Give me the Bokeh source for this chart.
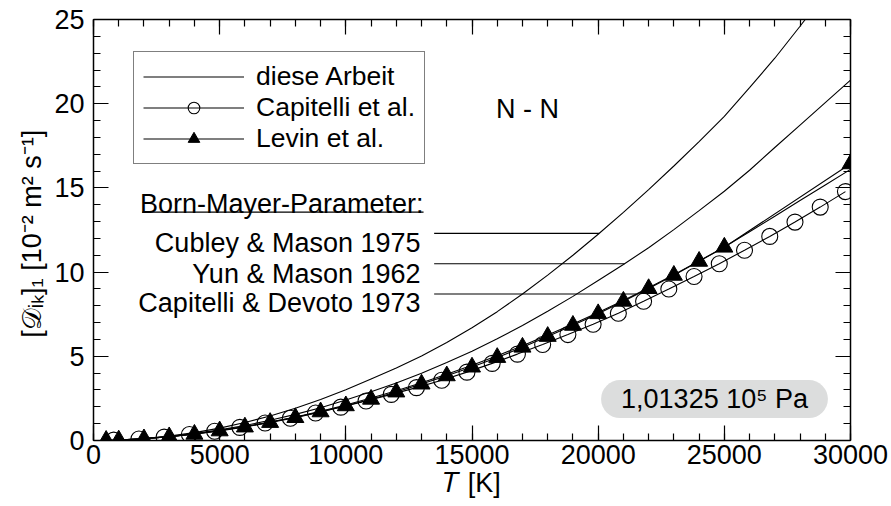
import numpy as np
from bokeh.plotting import figure
from bokeh.models import (Range1d, LinearAxis, SingleIntervalTicker, Legend,
                          LegendItem, Label)
from bokeh.embed import file_html
from bokeh.resources import INLINE

FONT = "Liberation Sans"
FS = "27px"

# Temperature grid of the computed curves (diese Arbeit) [K]
T_CURVE = [500] + list(range(1000, 30001, 1000))

# Diffusion coefficient [10^-2 m^2 s^-1] with three Born-Mayer parameter sets
D_CUBLEY_1975 = [0.007, 0.028, 0.115, 0.262, 0.469, 0.737, 1.07, 1.46, 1.92, 2.43,
                 3.01, 3.65, 4.30, 5.02, 5.82, 6.70, 7.65, 8.70, 9.82, 11.00,
                 12.25, 13.55, 14.90, 16.30, 17.75, 19.25, 20.95, 22.70, 24.60,
                 26.55, 28.50]
D_YUN_1962 = [0.006, 0.03, 0.10, 0.23, 0.41, 0.63, 0.89, 1.20, 1.55, 1.95,
              2.40, 2.89, 3.42, 4.00, 4.63, 5.30, 6.04, 6.83, 7.67, 8.56,
              9.50, 10.45, 11.45, 12.52, 13.65, 14.80, 16.05, 17.40, 18.73,
              20.06, 21.40]
D_DEVOTO_1973 = [0.008, 0.03, 0.11, 0.23, 0.39, 0.59, 0.82, 1.09, 1.40, 1.74,
                 2.11, 2.52, 2.96, 3.43, 3.93, 4.47, 5.03, 5.63, 6.26, 6.92,
                 7.60, 8.32, 9.07, 9.85, 10.66, 11.49, 12.40, 13.32, 14.25,
                 15.17, 16.10]

# Capitelli et al.
T_CAPITELLI = list(range(800, 30000, 1000))
D_CAPITELLI = [0.02, 0.09, 0.20, 0.36, 0.55, 0.78, 1.04, 1.32, 1.63, 1.98,
               2.35, 2.74, 3.14, 3.58, 4.06, 4.58, 5.13, 5.70, 6.29, 6.90,
               7.56, 8.27, 9.00, 9.74, 10.50, 11.30, 12.12, 12.97, 13.86, 14.78]

# Levin et al.
T_LEVIN = [500] + list(range(1000, 25001, 1000)) + [30000]
D_LEVIN = [0.01, 0.03, 0.10, 0.22, 0.37, 0.57, 0.80, 1.07, 1.36, 1.70,
           2.06, 2.45, 2.88, 3.35, 3.84, 4.36, 4.93, 5.54, 6.18, 6.84,
           7.53, 8.27, 9.02, 9.81, 10.64, 11.48, 16.43]

# Reference labels for the Born-Mayer parameter sets
BM_LABELS = ["Cubley & Mason 1975", "Yun & Mason 1962", "Capitelli & Devoto 1973"]
BM_CURVES = [D_CUBLEY_1975, D_YUN_1962, D_DEVOTO_1973]
BM_LEVELS = [12.3, 10.5, 8.7]          # height of the pointer lines
BM_TEXT_BASE = [11.72, 9.90, 8.14]     # baselines of the label texts
POINTER_START = 13500

p = figure(width=891, height=506, output_backend="svg", toolbar_location=None,
           x_range=Range1d(0, 30000), y_range=Range1d(0, 25),
           min_border_left=93, min_border_right=41, min_border_top=19,
           min_border_bottom=66, background_fill_color="white",
           border_fill_color="white")
p.grid.visible = False
p.outline_line_color = None

xticker = SingleIntervalTicker(interval=5000, num_minor_ticks=5)
yticker = SingleIntervalTicker(interval=5, num_minor_ticks=5)


def style_axis(ax, labels=True):
    ax.axis_line_color = "black"
    ax.axis_line_width = 1.5
    ax.major_tick_line_color = "black"
    ax.minor_tick_line_color = "black"
    ax.major_tick_line_width = 1.2
    ax.minor_tick_line_width = 1.2
    ax.major_tick_in = 15
    ax.major_tick_out = 0
    ax.minor_tick_in = 7
    ax.minor_tick_out = 0
    ax.major_label_text_font = FONT
    ax.major_label_text_color = "black"
    ax.axis_label_text_color = "black"
    ax.axis_label_text_font = FONT
    ax.axis_label_text_font_size = FS
    ax.axis_label_text_font_style = "normal"
    if labels:
        ax.major_label_text_font_size = FS
    else:
        ax.major_label_text_font_size = "0px"
        ax.major_label_text_color = None
        ax.major_label_standoff = 0


xa = p.xaxis[0]
ya = p.yaxis[0]
xa.ticker = xticker
ya.ticker = yticker
style_axis(xa)
style_axis(ya)
xa.major_label_standoff = 4
ya.major_label_standoff = 9
xa.axis_label = "𝑇 [K]"
xa.axis_label_standoff = 1
ya.axis_label = "[𝒟ᵢₖ]₁  [10⁻² m² s⁻¹]"
ya.axis_label_standoff = 4

top = LinearAxis(ticker=xticker)
right = LinearAxis(ticker=yticker)
style_axis(top, labels=False)
style_axis(right, labels=False)
p.add_layout(top, "above")
p.add_layout(right, "right")

# computed curves
curve_renderers = []
for d in BM_CURVES:
    r = p.line(T_CURVE, d, line_color="black", line_width=1.1)
    curve_renderers.append(r)

# pointer lines from the labels to the curves
for d, lvl in zip(BM_CURVES, BM_LEVELS):
    t_end = float(np.interp(lvl, d, T_CURVE))
    p.segment(x0=POINTER_START, y0=lvl, x1=t_end, y1=lvl,
              line_color="black", line_width=1.1)

# literature data
cap_line = p.line(T_CAPITELLI, D_CAPITELLI, line_color="black", line_width=1.1)
lev_line = p.line(T_LEVIN, D_LEVIN, line_color="black", line_width=1.1)
cap_pts = p.scatter(T_CAPITELLI, D_CAPITELLI, marker="circle", size=16,
                    fill_color=None, line_color="black", line_width=1.1)
lev_pts = p.scatter(T_LEVIN, D_LEVIN, marker="triangle", size=17,
                    fill_color="black", line_color="black", line_width=1)

legend = Legend(items=[
    LegendItem(label="diese Arbeit", renderers=[curve_renderers[0]]),
    LegendItem(label="Capitelli et al.", renderers=[cap_line, cap_pts]),
    LegendItem(label="Levin et al.", renderers=[lev_line, lev_pts]),
], location=(40, 276))
legend.label_text_font = FONT
legend.label_text_font_size = "26.5px"
legend.label_text_color = "black"
legend.glyph_width = 101
legend.glyph_height = 29
legend.label_height = 29
legend.spacing = 0
legend.padding = 9
legend.label_standoff = 12
legend.border_line_color = "black"
legend.border_line_width = 1.2
legend.background_fill_color = "white"
legend.background_fill_alpha = 1.0
p.add_layout(legend)


def text(x, y, s, align="right", baseline="alphabetic", **kw):
    lab = Label(x=x, y=y, text=s, text_align=align, text_baseline=baseline,
                text_font=FONT, text_font_size=FS, text_color="black", **kw)
    p.add_layout(lab)
    return lab


text(13080, 14.07, "Born-Mayer-Parameter:")
p.segment(x0=1930, y0=13.56, x1=13080, y1=13.56, line_color="black", line_width=1.3)
for lab, base in zip(BM_LABELS, BM_TEXT_BASE):
    text(12960, base, lab)

text(17200, 19.66, "N - N", align="center")

text(24610, 2.46, "1,01325 10⁵ Pa", align="center", baseline="middle",
     background_fill_color="#dcdddd", border_radius=20,
     padding=dict(left=20, right=20, top=4, bottom=4))

open("out.html", "w").write(file_html(p, INLINE))
